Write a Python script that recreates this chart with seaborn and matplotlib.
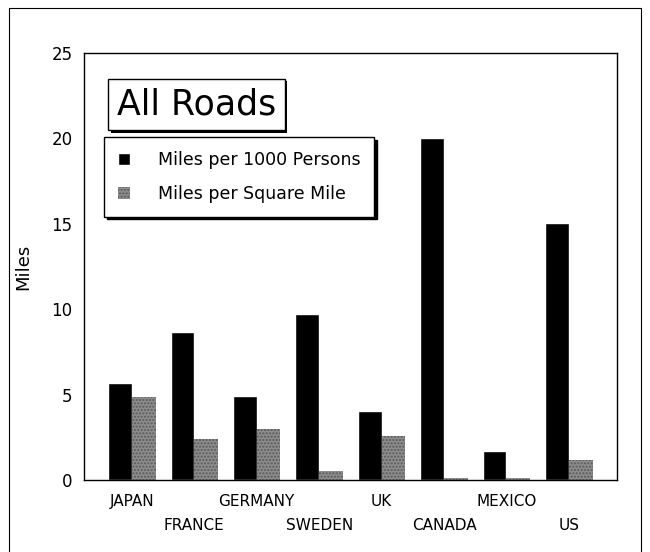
import matplotlib
matplotlib.use('Agg')
import matplotlib.pyplot as plt
import matplotlib.patheffects as pe
from matplotlib.patches import Rectangle
import seaborn as sns
import pandas as pd

# 데이터
countries = ['JAPAN', 'FRANCE', 'GERMANY', 'SWEDEN', 'UK', 'CANADA', 'MEXICO', 'US']
per_1000_persons = [5.7, 8.7, 4.95, 9.7, 4.08, 20.0, 1.7, 15.05]
per_square_mile = [4.86, 2.43, 3.0, 0.54, 2.6, 0.16, 0.16, 1.2]
series_names = ['Miles per 1000 Persons', 'Miles per Square Mile']

df = pd.DataFrame({
    'Country': countries * 2,
    'Miles': per_1000_persons + per_square_mile,
    'Series': [series_names[0]] * len(countries) + [series_names[1]] * len(countries),
})

sns.set_style('white')
plt.rcParams['font.family'] = ['DejaVu Sans']
plt.rcParams['text.color'] = 'black'
plt.rcParams['axes.labelcolor'] = 'black'
plt.rcParams['xtick.color'] = 'black'
plt.rcParams['ytick.color'] = 'black'

fig = plt.figure(figsize=(6.5, 5.52), dpi=100)
ax = fig.add_axes([0.129, 0.130, 0.820, 0.774])

palette = {series_names[0]: 'black', series_names[1]: '#8c8c8c'}
sns.barplot(data=df, x='Country', y='Miles', hue='Series', order=countries,
            hue_order=series_names, palette=palette, width=0.76, gap=0,
            saturation=1, ax=ax, legend=False)

# 회색 막대 점무늬
for bar in ax.patches[len(countries):]:
    bar.set_hatch('.....')
    bar.set_edgecolor('#5a5a5a')
    bar.set_linewidth(0)

ax.set_ylim(0, 25)
ax.set_xlim(-0.77, 7.77)
ax.set_yticks([0, 5, 10, 15, 20, 25])
ax.tick_params(axis='y', length=0, labelsize=12, pad=8)
ax.tick_params(axis='x', length=0, labelsize=11)
ax.set_xticks(range(len(countries)))
ax.set_xticklabels(countries)
# 두 줄로 엇갈린 x축 라벨
for i, tick in enumerate(ax.xaxis.get_major_ticks()):
    tick.set_pad(10 if i % 2 == 0 else 27)
ax.set_xlabel('')
ax.set_ylabel('Miles', fontsize=13, labelpad=14)
for s in ax.spines.values():
    s.set_color('black')
    s.set_linewidth(1)

# 제목 박스
t = ax.text(0.211, 0.880, 'All Roads', transform=ax.transAxes, fontsize=25,
            ha='center', va='center',
            bbox=dict(boxstyle='square,pad=0.25', fc='white', ec='black', lw=1))
t.get_bbox_patch().set_path_effects([
    pe.SimplePatchShadow(offset=(2, -2), shadow_rgbFace='black', alpha=1),
    pe.Normal()])

# 범례
handles = [Rectangle((0, 0), 1, 1, fc='black'),
           Rectangle((0, 0), 1, 1, fc='#8c8c8c', hatch='.....', ec='#5a5a5a', lw=0)]
leg = ax.legend(handles, series_names, loc='upper left', bbox_to_anchor=(0.0375, 0.803),
                fontsize=12.5, frameon=True, fancybox=False, edgecolor='black',
                shadow={'color': 'black', 'alpha': 1}, handlelength=0.7, handleheight=0.7,
                handletextpad=1.6, labelspacing=0.9, borderpad=0.8, borderaxespad=0)
leg.get_frame().set_linewidth(1)

# 바깥 테두리
fig.patches.append(Rectangle((9 / 650, -0.01), 632 / 650, 1 - 8 / 552 + 0.01,
                             transform=fig.transFigure, fill=False, ec='black', lw=0.8))

fig.savefig('out.png', dpi=100)
